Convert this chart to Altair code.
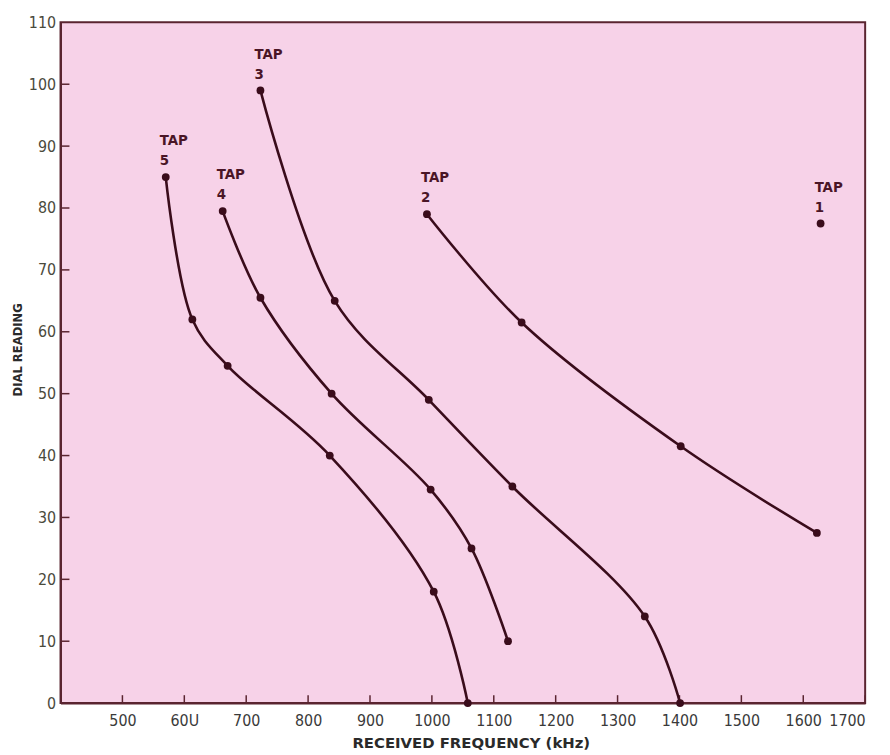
import altair as alt
import pandas as pd

# ---- data ----
tap5_freq = [570, 613, 670, 835, 1003, 1058]
tap5_dial = [85, 62, 54.5, 40, 18, 0]
tap4_freq = [662, 723, 838, 998, 1064, 1123]
tap4_dial = [79.5, 65.5, 50, 34.5, 25, 10]
tap3_freq = [723, 843, 995, 1130, 1344, 1401]
tap3_dial = [99, 65, 49, 35, 14, 0]
tap2_freq = [992, 1145, 1402, 1622]
tap2_dial = [79, 61.5, 41.5, 27.5]
tap1_freq = [1628]
tap1_dial = [77.5]

tap_names = ["TAP 1", "TAP 2", "TAP 3", "TAP 4", "TAP 5"]
tap_labels = [["TAP", "1"], ["TAP", "2"], ["TAP", "3"], ["TAP", "4"], ["TAP", "5"]]

x_ticks = [500, 600, 700, 800, 900, 1000, 1100, 1200, 1300, 1400, 1500, 1600, 1700]
x_tick_labels = ["500", "60U", "700", "800", "900", "1000", "1100", "1200", "1300", "1400", "1500", "1600", "1700"]
y_ticks = [0, 10, 20, 30, 40, 50, 60, 70, 80, 90, 100, 110]

series = [
    (tap1_freq, tap1_dial),
    (tap2_freq, tap2_dial),
    (tap3_freq, tap3_dial),
    (tap4_freq, tap4_dial),
    (tap5_freq, tap5_dial),
]

rows = []
label_rows = []
for name, lab, (fs, ds) in zip(tap_names, tap_labels, series):
    for f, d in zip(fs, ds):
        rows.append({"tap": name, "freq": f, "dial": d})
    i = ds.index(max(ds))
    label_rows.append({"tap": name, "freq": fs[i], "dial": ds[i], "label": lab})

df = pd.DataFrame(rows)
lab_df = pd.DataFrame(label_rows)
xt_df = pd.DataFrame({"freq": x_ticks})
yt_df = pd.DataFrame({"dial": [v for v in y_ticks if 0 < v < 110]})

INK = "#3a0c1b"
AXIS = "#5a2430"
PINK = "#f7d2e8"
FONT = "DejaVu Sans Condensed"

label_expr = "{" + ",".join(f"'{v}':'{t}'" for v, t in zip(x_ticks, x_tick_labels)) + "}[datum.value]"

xscale = alt.Scale(domain=[400, 1700], nice=False, zero=False)
yscale = alt.Scale(domain=[0, 110], nice=False)

xaxis = alt.Axis(
    values=x_ticks, labelExpr=label_expr, tickSize=0, grid=False,
    domainColor=AXIS, domainWidth=2, labelFont=FONT, labelFontSize=16,
    labelColor="#3a3a3a", labelPadding=10,
    title="RECEIVED FREQUENCY (kHz)", titleFont="DejaVu Sans", titleFontWeight="bold",
    titleFontSize=15, titleColor="#2a2a2a", titleX=414, titleY=33,
)
yaxis = alt.Axis(
    values=y_ticks, tickSize=0, grid=False,
    domainColor=AXIS, domainWidth=2, labelFont=FONT, labelFontSize=16,
    labelColor="#4a4a3c", labelPadding=5,
    title="DIAL READING", titleFont=FONT, titleFontWeight="bold",
    titleFontSize=13, titleColor="#2a2a2a", titleX=-36, titleY=330,
)

base = alt.Chart(df)

lines = base.mark_line(interpolate="catmull-rom", color=INK, strokeWidth=2.6).encode(
    x=alt.X("freq:Q", scale=xscale, axis=xaxis),
    y=alt.Y("dial:Q", scale=yscale, axis=yaxis),
    detail="tap:N",
    order="freq:Q",
)

points = base.mark_circle(size=62, color=INK, opacity=1).encode(
    x=alt.X("freq:Q", scale=xscale),
    y=alt.Y("dial:Q", scale=yscale),
)

labels = alt.Chart(lab_df).mark_text(
    align="left", baseline="alphabetic", dx=-6, dy=-32, lineHeight=20,
    font=FONT, fontWeight="bold", fontSize=15, color="#4a1526",
).encode(
    x=alt.X("freq:Q", scale=xscale),
    y=alt.Y("dial:Q", scale=yscale),
    text="label",
)

xticks_marks = alt.Chart(xt_df).mark_rule(color=AXIS, strokeWidth=1.5).encode(
    x=alt.X("freq:Q", scale=xscale),
    y=alt.value(687),
    y2=alt.value(679),
)
yticks_marks = alt.Chart(yt_df).mark_rule(color=AXIS, strokeWidth=1.5).encode(
    y=alt.Y("dial:Q", scale=yscale),
    x=alt.value(0),
    x2=alt.value(9),
)

chart = alt.layer(xticks_marks, yticks_marks, lines, points, labels).properties(
    width=812, height=687,
    autosize=alt.AutoSizeParams(type="none"),
    padding={"left": 53, "top": 11, "right": 17, "bottom": 60},
    background="white",
).configure_view(
    fill=PINK, stroke=AXIS, strokeWidth=2,
)

chart.save("out.html", embed_options={"renderer": "svg", "actions": False})
